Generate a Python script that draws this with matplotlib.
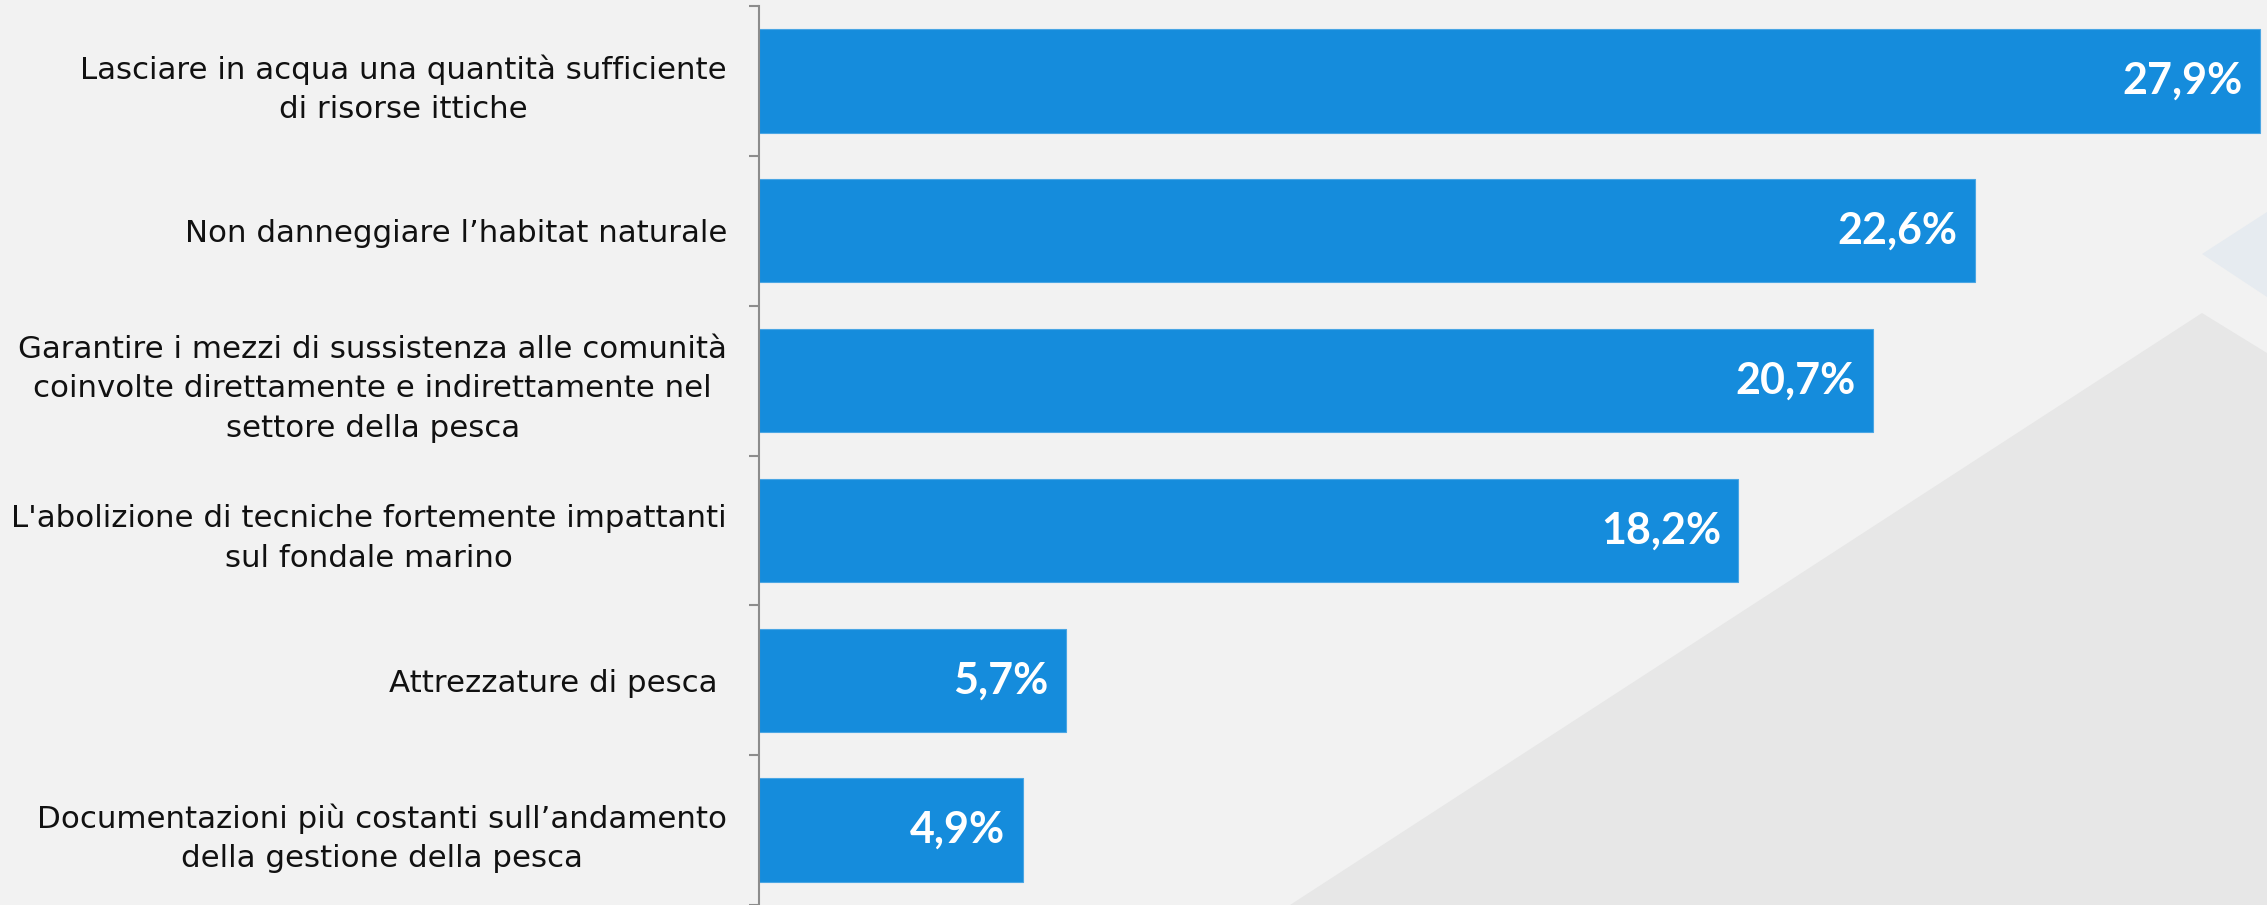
import matplotlib
matplotlib.use("Agg")
import matplotlib.pyplot as plt
from matplotlib.patches import Polygon

# Data
categories = [
    "Lasciare in acqua una quantità sufficiente\ndi risorse ittiche",
    "Non danneggiare l’habitat naturale",
    "Garantire i mezzi di sussistenza alle comunità\ncoinvolte direttamente e indirettamente nel\nsettore della pesca",
    "L'abolizione di tecniche fortemente impattanti\nsul fondale marino",
    "Attrezzature di pesca ",
    "Documentazioni più costanti sull’andamento\ndella gestione della pesca",
]
values = [27.9, 22.6, 20.7, 18.2, 5.7, 4.9]

BG = "#f2f2f2"
BAR = "#158cdc"
W, H = 2267, 905

fig = plt.figure(figsize=(W / 100, H / 100), dpi=100, facecolor=BG)

# Decorative background shapes (figure pixel coordinates, origin bottom-left)
def px(x, y_top):
    return (x / W, 1 - y_top / H)

gray_tri = Polygon([px(2202, 313), px(2267, 353), px(2267, 905), px(1290, 905)],
                   closed=True, transform=fig.transFigure, facecolor="#e7e7e7",
                   edgecolor="none", zorder=-10)
blue_tri = Polygon([px(2202, 254), px(2267, 212), px(2267, 297)],
                   closed=True, transform=fig.transFigure, facecolor="#e6ebf0",
                   edgecolor="none", zorder=-10)
fig.add_artist(gray_tri)
fig.add_artist(blue_tri)

left = 759 / W
top_px = 6
ax = fig.add_axes([left, 0, 1 - left, 1 - top_px / H])
ax.set_facecolor("none")

n = len(values)
y = list(range(n))
ax.barh(y, values, height=0.69, color=BAR, edgecolor="#4aa6e4", linewidth=0.8, zorder=3)
ax.set_ylim(n - 0.5, -0.5)
ax.set_xlim(0, 28.03)

# Value labels inside the bar ends
for yi, v in zip(y, values):
    ax.text(v - 0.32, yi, f"{v:.1f}".replace(".", ",") + "%", ha="right", va="center",
            color="white", fontsize=31, fontweight="bold", family="Lato", zorder=4)

# Ticks at category boundaries, labels at category centres
ax.set_yticks([i - 0.5 for i in range(n + 1)])
ax.set_yticklabels([])
ax.set_yticks(y, minor=True)
ax.set_yticklabels(categories, minor=True, fontsize=22.2, family="DejaVu Sans", color="#111111")
ax.tick_params(axis="y", which="major", length=7.5, width=1.5, color="#8c8c8c", direction="out")
ax.tick_params(axis="y", which="minor", length=0, pad=23)
for lbl in ax.get_yticklabels(minor=True):
    lbl.set_multialignment("center")
    lbl.set_linespacing(1.45)

ax.set_xticks([])
for s in ["top", "right", "bottom"]:
    ax.spines[s].set_visible(False)
ax.spines["left"].set_color("#8c8c8c")
ax.spines["left"].set_linewidth(1.5)
ax.spines["left"].set_zorder(5)

fig.savefig("out.png", dpi=100, facecolor=BG)
